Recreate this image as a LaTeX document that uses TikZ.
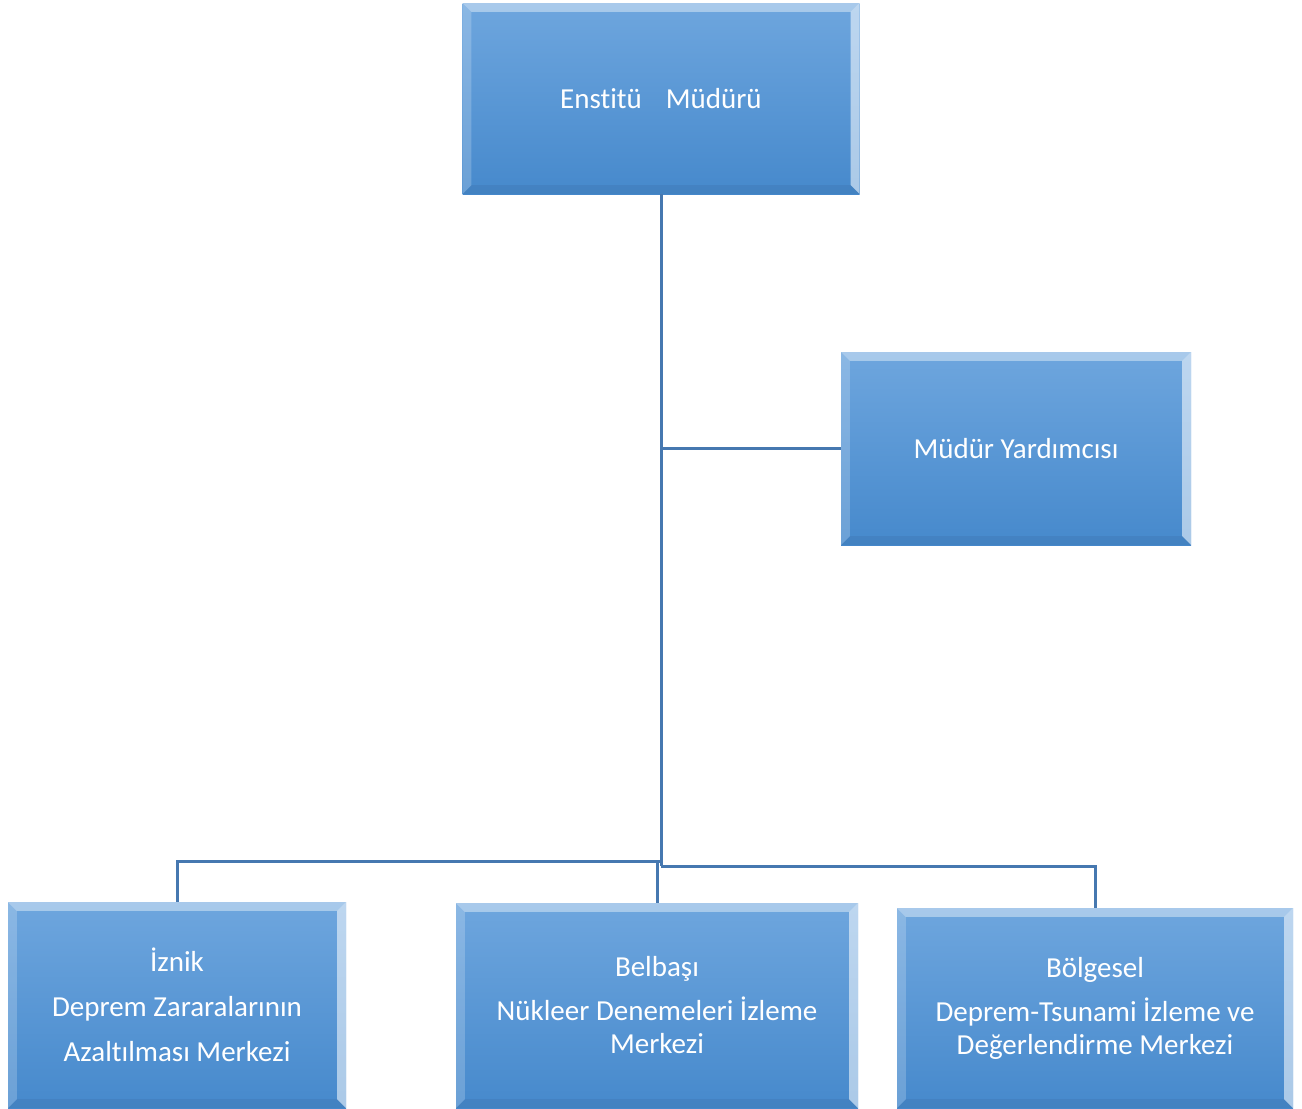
\documentclass[tikz,border=0pt]{standalone}
\usepackage{fontspec}
\setmainfont{Carlito}[Ligatures=NoCommon]
\definecolor{boxtop}{RGB}{110,166,222}
\definecolor{boxbot}{RGB}{70,137,204}
\definecolor{linec}{RGB}{70,120,176}
\tikzset{
  orgbox/.style={inner sep=0pt, top color=boxtop, bottom color=boxbot, text=white,
    font=\fontsize{29}{33}\selectfont, align=center},
  conn/.style={draw=linec, line width=3pt},
}
\newcommand\bevelbox[1]{%
  \fill[white, opacity=0.4] (#1.north west) -- (#1.north east) -- ([shift={(-9,9)}]#1.north east) -- ([shift={(9,9)}]#1.north west) -- cycle;
  \fill[white, opacity=0.2] (#1.north west) -- ([shift={(9,9)}]#1.north west) -- ([shift={(9,-9)}]#1.south west) -- (#1.south west) -- cycle;
  \fill[white, opacity=0.55] (#1.north east) -- (#1.south east) -- ([shift={(-9,-9)}]#1.south east) -- ([shift={(-9,9)}]#1.north east) -- cycle;
  \fill[black, opacity=0.05] (#1.south west) -- ([shift={(9,-9)}]#1.south west) -- ([shift={(-9,-9)}]#1.south east) -- (#1.south east) -- cycle;
}
\begin{document}
\begin{tikzpicture}[x=1pt,y=-1pt]
\useasboundingbox (0,0) rectangle (1302,1109);
\coordinate (jl) at (661,861);
\coordinate (jb) at (657,861);
\coordinate (jr) at (661,866);
% boxes
\node[orgbox, minimum width=397pt, minimum height=191pt] (top) at (661,98.5) {Enstitü\hspace{0.6em}\ Müdürü};
\node[orgbox, minimum width=350pt, minimum height=193pt] (my) at (1016,448.5) {Müdür Yardımcısı};
\node[orgbox, minimum width=338pt, minimum height=206pt] (iz) at (177,1005) {İznik\\[12pt] Deprem Zararalarının\\[12pt] Azaltılması Merkezi};
\node[orgbox, minimum width=402pt, minimum height=205pt] (bb) at (657,1005.5) {Belbaşı\\[11pt] Nükleer Denemeleri İzleme\\ Merkezi};
\node[orgbox, minimum width=396pt, minimum height=200pt] (bg) at (1095,1008) {Bölgesel\\[11pt] Deprem-Tsunami İzleme ve\\ Değerlendirme Merkezi};
\bevelbox{top}
\bevelbox{my}
\bevelbox{iz}
\bevelbox{bb}
\bevelbox{bg}
% connector lines
\draw[conn] (top.south) -- (top.south |- jr);
\draw[conn] (top.south |- my.west) -- (my.west);
\draw[conn] (jl) -| (iz.north);
\draw[conn] (jb) -- (bb.north);
\draw[conn] (jr) -| (bg.north);
\end{tikzpicture}
\end{document}
